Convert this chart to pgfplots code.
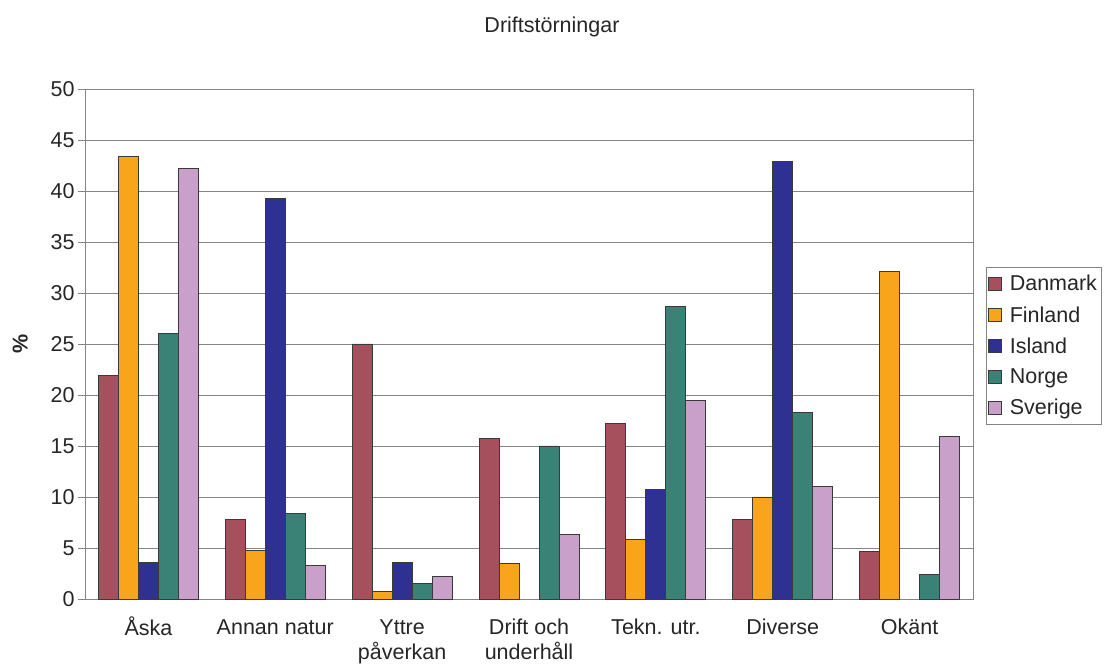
\documentclass[border=0pt]{standalone}
\usepackage{fontspec}
\setmainfont{Liberation Sans}
\usepackage{pgfplots}
\pgfplotsset{compat=1.18}
\definecolor{cDan}{HTML}{A64F5D}
\definecolor{cFin}{HTML}{F8A51C}
\definecolor{cIsl}{HTML}{2E3192}
\definecolor{cNor}{HTML}{3A8176}
\definecolor{cSve}{HTML}{C8A0CA}
\definecolor{cEdge}{HTML}{3A3A3A}
\definecolor{cGrid}{HTML}{858585}
\begin{document}
\begin{tikzpicture}[x=1pt,y=1pt]
\useasboundingbox (0,0) rectangle (1106,666);
\node[font=\fontsize{21.5}{25}\selectfont, text=black!85] at (552,639) {Driftstörningar};
\begin{axis}[
  at={(85pt,67pt)}, anchor=south west,
  scale only axis, width=888pt, height=510pt,
  ymin=0, ymax=50, ytick={0,5,...,50},
  xmin=-0.5, xmax=6.5,
  xtick={0,...,6},
  xtick pos=bottom, ytick pos=left,
  xticklabels={\strut Åska,\strut Annan natur,\strut Yttre\\påverkan,\strut Drift och\\underhåll,\strut Tekn. utr.,\strut Diverse,\strut Okänt},
  x tick label style={align=center, font=\fontsize{21.5}{25}\selectfont, text=black!85, yshift=-7pt},
  y tick label style={font=\fontsize{21.5}{25}\selectfont, text=black!85},
  /pgf/number format/assume math mode=true,
  major x tick style={draw=none},
  extra x ticks={-0.5,0.5,1.5,2.5,3.5,4.5,5.5,6.5},
  extra x tick labels={},
  extra x tick style={major tick length=7pt, tick align=outside, tick style={draw=cGrid, line width=0.8pt}, grid=none},
  tick align=outside, major tick length=7pt,
  ytick style={draw=cGrid, line width=0.8pt},
  ymajorgrids, grid style={draw=cGrid, line width=0.9pt},
  axis line style={draw=cGrid, line width=0.9pt},
  ylabel={\textbf{\%}},
  ylabel style={font=\fontsize{21.5}{25}\selectfont, text=black!85, at={(axis description cs:-0.073,0.5)}, anchor=center},
  ybar=0pt, bar width=20pt,
  every axis plot/.append style={draw=cEdge, line width=0.9pt},
  legend style={at={(1.0146,0.651)}, anchor=north west, draw=cGrid, line width=0.8pt,
    font=\fontsize{21.5}{25}\selectfont, text=black!85, row sep=10pt, inner xsep=2pt, inner ysep=6pt,
    cells={anchor=west}},
  legend image code/.code={\draw[#1, line width=0.8pt] (0pt,-6.5pt) rectangle (13pt,6.5pt); \path[draw=none, fill=none] (0pt,0pt) -- (19pt,0pt);},
  clip=false,
]
\addplot[fill=cDan] coordinates {(0,21.9) (1,7.8) (2,25.0) (3,15.7) (4,17.2) (5,7.8) (6,4.7)};
\addplot[fill=cFin] coordinates {(0,43.4) (1,4.8) (2,0.7) (3,3.5) (4,5.85) (5,10.0) (6,32.1)};
\addplot[fill=cIsl] coordinates {(0,3.6) (1,39.3) (2,3.6) (4,10.75) (5,42.9)};
\addplot[fill=cNor] coordinates {(0,26.0) (1,8.4) (2,1.5) (3,15.0) (4,28.7) (5,18.3) (6,2.45)};
\addplot[fill=cSve] coordinates {(0,42.2) (1,3.3) (2,2.2) (3,6.3) (4,19.5) (5,11.0) (6,15.9)};
\legend{Danmark,Finland,Island,Norge,Sverige}
\end{axis}
\end{tikzpicture}
\end{document}
